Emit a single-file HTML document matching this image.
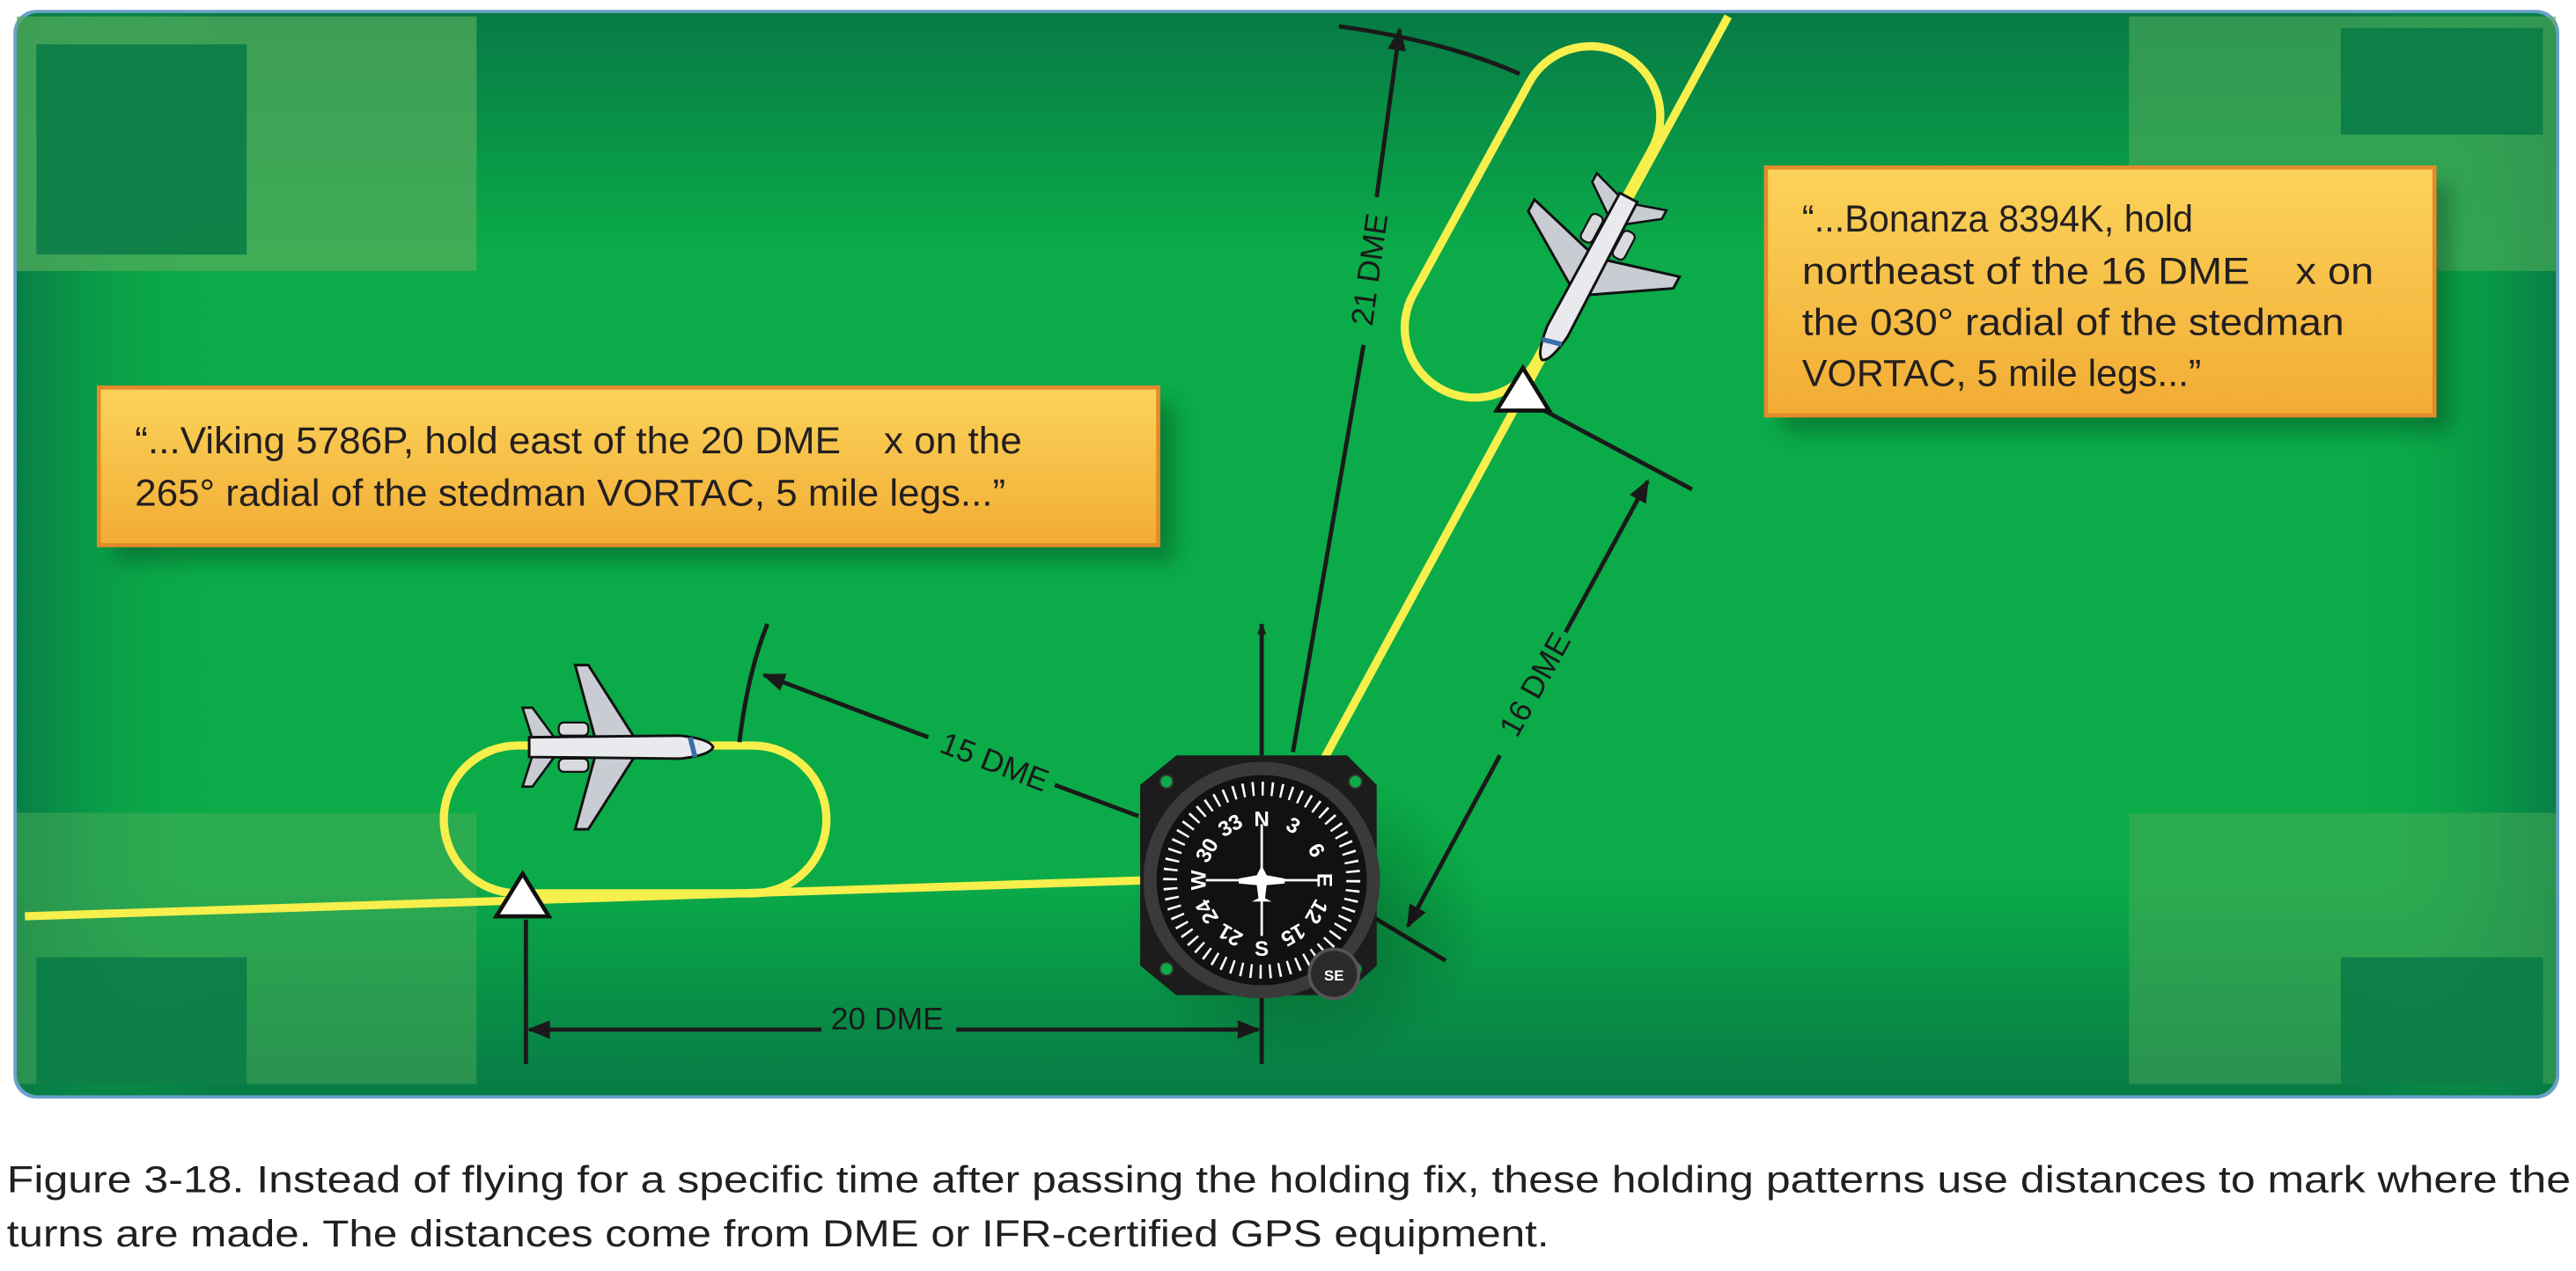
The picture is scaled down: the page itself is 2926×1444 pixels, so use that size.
<!DOCTYPE html>
<html><head><meta charset="utf-8"><style>
html,body{margin:0;padding:0;background:#fff;}
svg{display:block;}
</style></head><body>
<svg width="2926" height="1444" viewBox="0 0 1568 774" xmlns="http://www.w3.org/2000/svg">
<defs>
<linearGradient id="bgv" x1="0" y1="0" x2="0" y2="1">
<stop offset="0" stop-color="#077a45"/><stop offset="0.22" stop-color="#0aab48"/><stop offset="0.8" stop-color="#0aab48"/><stop offset="1" stop-color="#077a45"/></linearGradient>
<linearGradient id="bgh" x1="0" y1="0" x2="1" y2="0">
<stop offset="0" stop-color="#077a45" stop-opacity="0.9"/><stop offset="0.08" stop-color="#0aab48" stop-opacity="0"/><stop offset="0.92" stop-color="#0aab48" stop-opacity="0"/><stop offset="1" stop-color="#077a45" stop-opacity="0.9"/></linearGradient>
<linearGradient id="box" x1="0" y1="0" x2="0" y2="1">
<stop offset="0" stop-color="#fbd35a"/><stop offset="1" stop-color="#f2ac34"/></linearGradient>
<radialGradient id="sh" cx="0.5" cy="0.5" r="0.5"><stop offset="0" stop-color="#000" stop-opacity="0.35"/><stop offset="1" stop-color="#000" stop-opacity="0"/></radialGradient>
<marker id="ar" viewBox="0 0 10 10" refX="9" refY="5" markerWidth="7" markerHeight="7" orient="auto-start-reverse" markerUnits="userSpaceOnUse"><path d="M0,1 L10,5 L0,9 z" fill="#1a1a1a"/></marker>
<marker id="arb" viewBox="0 0 10 10" refX="9" refY="5" markerWidth="18" markerHeight="14" orient="auto-start-reverse" markerUnits="userSpaceOnUse"><path d="M0,1 L10,5 L0,9 z" fill="#1a1a1a"/></marker>
<g id="plane">
<path d="M10,-6 L-18,-50 L-26,-50 L-14,-6 Z" fill="#c9ccd3" stroke="#111" stroke-width="1.6"/>
<path d="M10,6 L-18,50 L-26,50 L-14,6 Z" fill="#c9ccd3" stroke="#111" stroke-width="1.6"/>
<path d="M-38,-5 L-52,-24 L-58,-24 L-52,-5 Z" fill="#c9ccd3" stroke="#111" stroke-width="1.4"/>
<path d="M-38,5 L-52,24 L-58,24 L-52,5 Z" fill="#c9ccd3" stroke="#111" stroke-width="1.4"/>
<rect x="-36" y="-15" width="18" height="8" rx="3" fill="#d8dade" stroke="#111" stroke-width="1.2"/>
<rect x="-36" y="7" width="18" height="8" rx="3" fill="#d8dade" stroke="#111" stroke-width="1.2"/>
<path d="M-54,-6 L38,-7 Q56,-5 58,0 Q56,5 38,7 L-54,6 Z" fill="#e8eaee" stroke="#111" stroke-width="1.6"/>
<path d="M44,-6 L47,6" stroke="#3a6fa8" stroke-width="3"/>
</g>
</defs>
<rect width="1568" height="774" fill="#fff"/>
<rect x="8" y="6" width="1550" height="663" rx="14" fill="#6aa0c8"/>
<rect x="10" y="8" width="1546" height="659" rx="13" fill="url(#bgv)"/>
<rect x="10" y="8" width="1546" height="659" rx="13" fill="url(#bgh)"/>
<rect x="10" y="10" width="280" height="155" fill="#55ad5c" opacity="0.7"/>
<rect x="22" y="27" width="128" height="128" fill="#077a45" opacity="0.85"/>
<rect x="1296" y="10" width="260" height="155" fill="#55ad5c" opacity="0.55"/>
<rect x="1425" y="17" width="123" height="65" fill="#077a45" opacity="0.85"/>
<rect x="10" y="495" width="280" height="165" fill="#55ad5c" opacity="0.45"/>
<rect x="22" y="583" width="128" height="77" fill="#077a45" opacity="0.85"/>
<rect x="1296" y="495" width="260" height="165" fill="#55ad5c" opacity="0.45"/>
<rect x="1425" y="583" width="123" height="77" fill="#077a45" opacity="0.85"/>
<g fill="none" stroke="#f7ef4c" stroke-width="5">
<line x1="15" y1="558" x2="700" y2="536"/>
<line x1="806" y1="462" x2="1052" y2="10"/>
<rect x="270" y="454" width="233" height="90" rx="45"/>
<g transform="translate(925,238) rotate(-61.3)"><rect x="-22" y="-85" width="232" height="85" rx="42.5"/></g>
</g>
<g stroke="#1a1a1a" stroke-width="2.6" fill="none">
<line x1="768" y1="460" x2="768" y2="380" marker-end="url(#ar)"/>
<line x1="768" y1="600" x2="768" y2="648"/>
<line x1="787" y1="458" x2="830" y2="210"/>
<line x1="838" y1="120" x2="852" y2="18" marker-end="url(#arb)"/>
<path d="M815,16 Q880,25 925,45"/>
<line x1="693" y1="497" x2="642" y2="478"/>
<line x1="565" y1="449" x2="465" y2="411" marker-end="url(#arb)"/>
<path d="M450,452 Q455,410 467,380"/>
<line x1="1003" y1="293" x2="953" y2="385" marker-start="url(#arb)"/>
<line x1="913" y1="460" x2="857" y2="564" marker-end="url(#arb)"/>
<line x1="940" y1="250" x2="1030" y2="298"/>
<line x1="835" y1="558" x2="880" y2="585"/>
<line x1="320" y1="560" x2="320" y2="648"/>
<line x1="322" y1="627" x2="500" y2="627" marker-start="url(#arb)"/>
<line x1="582" y1="627" x2="766" y2="627" marker-end="url(#arb)"/>
</g>
<g font-family="Liberation Sans, sans-serif" font-size="19" fill="#1a1a1a">
<text x="540" y="627" text-anchor="middle">20 DME</text>
<text transform="translate(603,470) rotate(21)" text-anchor="middle">15 DME</text>
<text transform="translate(840,165) rotate(-82)" text-anchor="middle">21 DME</text>
<text transform="translate(940,420) rotate(-61)" text-anchor="middle">16 DME</text>
</g>
<path d="M318,532 L334,558 L302,558 Z" fill="#fff" stroke="#111" stroke-width="2.5"/>
<path d="M927,224 L943,250 L911,250 Z" fill="#fff" stroke="#111" stroke-width="2.5"/>
<use href="#plane" transform="translate(376,455)"/>
<use href="#plane" transform="translate(966,168) rotate(118)"/>
<ellipse cx="795" cy="560" rx="110" ry="90" fill="url(#sh)"/>
<path d="M716,460 L820,460 L838,478 L838,588 L818,606 L716,606 L694,588 L694,478 Z" fill="#1c1c1c"/>
<circle cx="710" cy="476" r="4" fill="#0aab48" stroke="#333"/>
<circle cx="825" cy="476" r="4" fill="#0aab48" stroke="#333"/>
<circle cx="710" cy="590" r="4" fill="#0aab48" stroke="#333"/>
<circle cx="825" cy="590" r="4" fill="#0aab48" stroke="#333"/>
<circle cx="768" cy="536" r="72" fill="#3a3a3a"/>
<circle cx="768" cy="536" r="63" fill="#111" stroke="#bbb" stroke-width="0.8"/>
<circle cx="768" cy="536" r="56" fill="none" stroke="#fff" stroke-width="9" stroke-dasharray="1.4 4.46"/>
<circle cx="768" cy="536" r="62" fill="none" stroke="#111" stroke-width="4"/>
<g stroke="#fff" stroke-width="1.5"><line x1="768" y1="502" x2="768" y2="570"/><line x1="734" y1="536" x2="802" y2="536"/></g>
<path d="M768,527 L771,533 L782,535 L782,538 L771,539 L770,547 L774,549 L762,549 L766,547 L765,539 L754,538 L754,535 L765,533 Z" fill="#fff"/>
<g font-family="Liberation Sans, sans-serif" font-size="13" font-weight="bold" fill="#fff" text-anchor="middle">
<text x="768" y="503">N</text><text x="768" y="582">S</text>
<text transform="translate(806,536) rotate(90)" y="4">E</text>
<text transform="translate(730,536) rotate(-90)" y="4">W</text>
<text transform="translate(787,503) rotate(30)" y="4">3</text>
<text transform="translate(801,518) rotate(60)" y="4">6</text>
<text transform="translate(801,555) rotate(120)" y="4">12</text>
<text transform="translate(787,569) rotate(150)" y="4">15</text>
<text transform="translate(749,569) rotate(210)" y="4">21</text>
<text transform="translate(735,555) rotate(240)" y="4">24</text>
<text transform="translate(735,518) rotate(300)" y="4">30</text>
<text transform="translate(749,503) rotate(330)" y="4">33</text>
</g>
<circle cx="812" cy="593" r="15" fill="#2a2a2a" stroke="#555" stroke-width="2"/>
<text x="812" y="597" font-family="Liberation Sans, sans-serif" font-size="9" font-weight="bold" fill="#fff" text-anchor="middle">SE</text>
<rect x="70" y="246" width="645" height="96" fill="#000" opacity="0.25" filter="blur(6px)"/>
<rect x="60" y="236" width="645" height="96" fill="url(#box)" stroke="#e28a2c" stroke-width="2.5"/>
<rect x="1085" y="112" width="407" height="151" fill="#000" opacity="0.25" filter="blur(6px)"/>
<rect x="1075" y="102" width="407" height="151" fill="url(#box)" stroke="#e28a2c" stroke-width="2.5"/>
<g font-family="Liberation Sans, sans-serif" font-size="23" fill="#231f20" lengthAdjust="spacingAndGlyphs">
<text x="82" y="276" textLength="540" lengthAdjust="spacingAndGlyphs">“...Viking 5786P, hold east of the 20 DME&#160;&#160;&#160;&#160;x on the</text>
<text x="82" y="308" textLength="530" lengthAdjust="spacingAndGlyphs">265° radial of the stedman VORTAC, 5 mile legs...”</text>
<text x="1097" y="141" textLength="238" lengthAdjust="spacingAndGlyphs">“...Bonanza 8394K, hold</text>
<text x="1097" y="173" textLength="348" lengthAdjust="spacingAndGlyphs">northeast of the 16 DME&#160;&#160;&#160;&#160;x on</text>
<text x="1097" y="204" textLength="330" lengthAdjust="spacingAndGlyphs">the 030° radial of the stedman</text>
<text x="1097" y="235" textLength="243" lengthAdjust="spacingAndGlyphs">VORTAC, 5 mile legs...”</text>
</g>
<g font-family="Liberation Sans, sans-serif" font-size="23" fill="#231f20">
<text x="4" y="726" textLength="1561" lengthAdjust="spacingAndGlyphs">Figure 3-18. Instead of flying for a specific time after passing the holding fix, these holding patterns use distances to mark where the</text>
<text x="4" y="759" textLength="939" lengthAdjust="spacingAndGlyphs">turns are made. The distances come from DME or IFR-certified GPS equipment.</text>
</g>
</svg>
</body></html>
